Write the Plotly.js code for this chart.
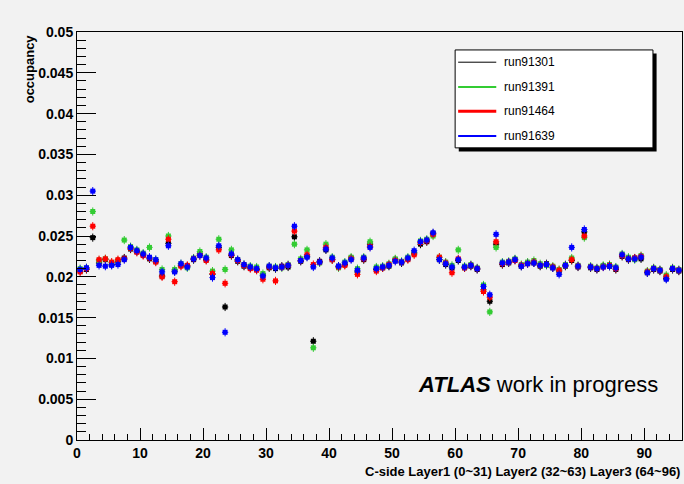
<!DOCTYPE html>
<html>
<head>
<meta charset="utf-8">
<script src="https://cdn.plot.ly/plotly-3.0.1.min.js"></script>
<style>html,body{margin:0;padding:0;background:#f2f2f2;}#chart{width:684px;height:484px;}</style>
</head>
<body>
<div id="chart"></div>
<script>
// channel index (bin centres 0.5 ... 95.5)
const channels = Array.from({length: 96}, (_, i) => i + 0.5);

const runNames = ["run91301", "run91391", "run91464", "run91639"];
const runColors = ["#000000", "#33cc33", "#ff0000", "#0000ff"];

const run91301 = [
  0.0207,0.0209,0.0248,0.0217,0.0221,0.0215,0.0219,0.0223,0.0234,0.0231,0.0227,0.0222,0.0219,0.0201,0.0241,0.0207,
  0.0214,0.0213,0.0221,0.0228,0.0221,0.0203,0.0236,0.0163,0.0226,0.0219,0.0213,0.0211,0.0209,0.0202,0.0211,0.0210,
  0.0213,0.0212,0.0249,0.0219,0.0225,0.0121,0.0219,0.0233,0.0221,0.0213,0.0215,0.0223,0.0206,0.0221,0.0240,0.0209,
  0.0211,0.0213,0.0221,0.0217,0.0222,0.0229,0.0240,0.0243,0.0253,0.0221,0.0215,0.0211,0.0220,0.0211,0.0213,0.0209,
  0.0184,0.0170,0.0240,0.0215,0.0217,0.0221,0.0213,0.0217,0.0217,0.0213,0.0216,0.0211,0.0207,0.0213,0.0220,0.0212,
  0.0255,0.0211,0.0209,0.0213,0.0213,0.0209,0.0225,0.0221,0.0223,0.0222,0.0205,0.0209,0.0207,0.0198,0.0209,0.0207
];
const run91391 = [
  0.0210,0.0211,0.0280,0.0220,0.0222,0.0217,0.0220,0.0245,0.0237,0.0233,0.0229,0.0236,0.0221,0.0209,0.0250,0.0209,
  0.0216,0.0211,0.0223,0.0231,0.0224,0.0207,0.0246,0.0209,0.0233,0.0221,0.0215,0.0213,0.0212,0.0204,0.0213,0.0212,
  0.0211,0.0215,0.0240,0.0222,0.0233,0.0113,0.0217,0.0240,0.0224,0.0211,0.0218,0.0224,0.0210,0.0224,0.0243,0.0212,
  0.0213,0.0216,0.0222,0.0219,0.0224,0.0230,0.0244,0.0246,0.0250,0.0224,0.0218,0.0214,0.0233,0.0213,0.0215,0.0211,
  0.0190,0.0157,0.0236,0.0218,0.0219,0.0222,0.0215,0.0218,0.0220,0.0216,0.0214,0.0213,0.0209,0.0215,0.0223,0.0214,
  0.0248,0.0213,0.0211,0.0214,0.0215,0.0212,0.0228,0.0224,0.0221,0.0226,0.0207,0.0211,0.0209,0.0202,0.0211,0.0209
];
const run91464 = [
  0.0206,0.0210,0.0262,0.0221,0.0222,0.0218,0.0221,0.0222,0.0235,0.0230,0.0226,0.0223,0.0218,0.0200,0.0246,0.0194,
  0.0213,0.0214,0.0222,0.0226,0.0220,0.0204,0.0233,0.0192,0.0227,0.0220,0.0214,0.0210,0.0208,0.0197,0.0212,0.0195,
  0.0212,0.0214,0.0256,0.0220,0.0227,0.0215,0.0218,0.0236,0.0221,0.0212,0.0214,0.0222,0.0203,0.0222,0.0237,0.0207,
  0.0211,0.0215,0.0220,0.0218,0.0221,0.0227,0.0242,0.0244,0.0252,0.0224,0.0217,0.0205,0.0222,0.0211,0.0214,0.0210,
  0.0182,0.0175,0.0243,0.0216,0.0218,0.0220,0.0214,0.0216,0.0218,0.0214,0.0215,0.0212,0.0208,0.0214,0.0221,0.0213,
  0.0250,0.0212,0.0210,0.0212,0.0214,0.0210,0.0226,0.0222,0.0223,0.0225,0.0206,0.0210,0.0208,0.0200,0.0210,0.0208
];
const run91639 = [
  0.0209,0.0211,0.0305,0.0214,0.0213,0.0214,0.0215,0.0221,0.0236,0.0232,0.0228,0.0224,0.0221,0.0206,0.0238,0.0206,
  0.0216,0.0212,0.0222,0.0226,0.0223,0.0199,0.0238,0.0132,0.0228,0.0221,0.0215,0.0212,0.0210,0.0201,0.0213,0.0211,
  0.0212,0.0214,0.0262,0.0220,0.0224,0.0212,0.0218,0.0234,0.0223,0.0213,0.0217,0.0221,0.0208,0.0223,0.0236,0.0210,
  0.0212,0.0214,0.0219,0.0218,0.0223,0.0232,0.0243,0.0245,0.0254,0.0221,0.0216,0.0212,0.0221,0.0212,0.0214,0.0210,
  0.0188,0.0178,0.0252,0.0217,0.0218,0.0221,0.0213,0.0216,0.0217,0.0214,0.0215,0.0211,0.0203,0.0214,0.0236,0.0213,
  0.0258,0.0212,0.0210,0.0212,0.0213,0.0211,0.0227,0.0222,0.0222,0.0224,0.0205,0.0210,0.0208,0.0197,0.0210,0.0208
];
const runValues = [run91301, run91391, run91464, run91639];

const xTitle = "C-side Layer1 (0~31) Layer2 (32~63) Layer3 (64~96)";
const yTitle = "occupancy";
const stamp = "<b><i>ATLAS</i></b> work in progress";

const FONT = "Liberation Sans, Arial, Helvetica, sans-serif";

const traces = runValues.map((vals, k) => ({
  type: "scatter",
  mode: "markers",
  x: channels,
  y: vals,
  name: runNames[k],
  showlegend: false,
  marker: {symbol: "square", size: 5, color: runColors[k]},
  error_y: {type: "constant", value: 0.0005, width: 0, thickness: 1, color: runColors[k]},
  error_x: {type: "constant", value: 0.5, width: 0, thickness: 1, color: runColors[k]}
}));

// Manual ROOT-style legend (box with shadow, line samples, labels)
const L = {x0: 0.625, x1: 0.952, y0: 0.716, y1: 0.956};
const shapes = [
  {type: "rect", xref: "paper", yref: "paper", x0: L.x0 + 0.006, x1: L.x1 + 0.006, y0: L.y0 - 0.009, y1: L.y1 - 0.009,
   line: {width: 0}, fillcolor: "#000000"},
  {type: "rect", xref: "paper", yref: "paper", x0: L.x0, x1: L.x1, y0: L.y0, y1: L.y1,
   line: {width: 1, color: "#000000"}, fillcolor: "#ffffff"}
];
const annotations = [];
const rowY = [0.926, 0.865, 0.806, 0.745];
const lineW = [1, 2, 3, 2];
runNames.forEach((nm, k) => {
  shapes.push({type: "line", xref: "paper", yref: "paper", x0: 0.630, x1: 0.693, y0: rowY[k], y1: rowY[k],
               line: {color: runColors[k], width: lineW[k]}});
  annotations.push({xref: "paper", yref: "paper", x: 0.703, y: rowY[k], xanchor: "left", yanchor: "middle",
                    text: nm, showarrow: false, font: {family: FONT, size: 12, color: "#000"}});
});
annotations.push({xref: "paper", yref: "paper", x: 1.0, y: -0.078, xanchor: "right", yanchor: "middle",
                  text: xTitle, showarrow: false, font: {family: FONT, size: 13, color: "#000", weight: "bold"}});
annotations.push({xref: "paper", yref: "paper", x: -0.078, y: 1.0, xanchor: "center", yanchor: "top",
                  textangle: -90, text: yTitle, showarrow: false, font: {family: FONT, size: 13, color: "#000", weight: "bold"}});
annotations.push({xref: "paper", yref: "paper", x: 0.9636, y: 0.135, xanchor: "right", yanchor: "middle",
                  text: stamp, showarrow: false, font: {family: FONT, size: 22, color: "#000"}});

const layout = {
  width: 684, height: 484,
  paper_bgcolor: "#f2f2f2",
  plot_bgcolor: "#f2f2f2",
  margin: {l: 77, r: 2, t: 32, b: 44, pad: 0},
  showlegend: false,
  font: {family: FONT, size: 13, color: "#000"},
  xaxis: {
    range: [0, 96], tick0: 0, dtick: 10, ticks: "inside", ticklen: 12, tickwidth: 1, tickcolor: "#000",
    minor: {dtick: 2, ticks: "inside", ticklen: 6, tickcolor: "#000"},
    showline: true, linecolor: "#000", linewidth: 1, mirror: true,
    showgrid: false, zeroline: false,
    tickfont: {family: FONT, size: 14, color: "#000", weight: "bold"}
  },
  yaxis: {
    range: [0, 0.05], tick0: 0, dtick: 0.005, ticks: "inside", ticklen: 19, tickwidth: 1, tickcolor: "#000",
    minor: {dtick: 0.001, ticks: "inside", ticklen: 9, tickcolor: "#000"},
    showline: true, linecolor: "#000", linewidth: 1, mirror: true,
    showgrid: false, zeroline: false,
    tickfont: {family: FONT, size: 14, color: "#000", weight: "bold"}
  },
  shapes: shapes,
  annotations: annotations
};

Plotly.newPlot("chart", traces, layout, {displayModeBar: false, staticPlot: true});
</script>
</body>
</html>
